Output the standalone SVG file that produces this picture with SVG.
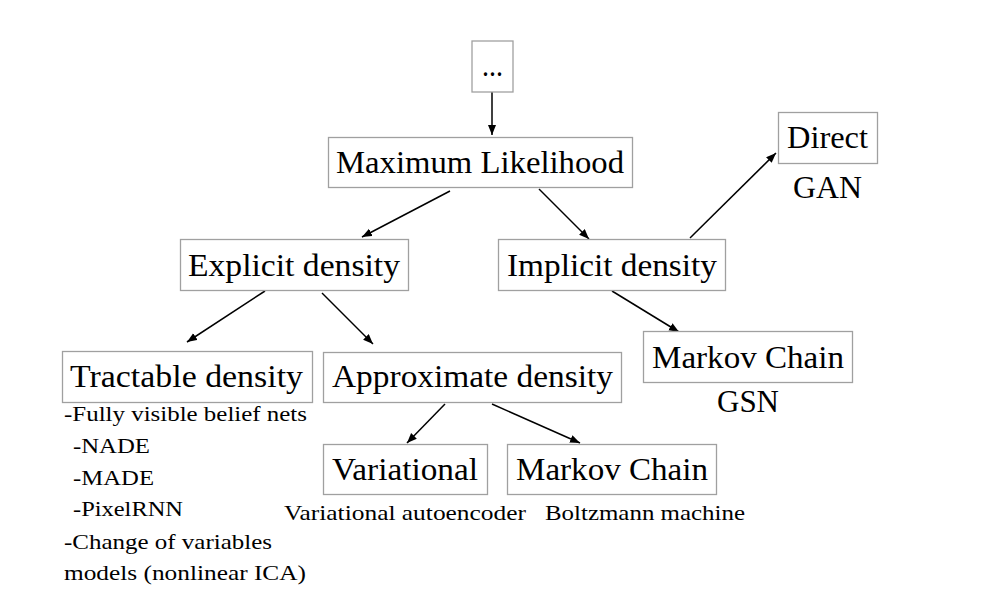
<svg xmlns="http://www.w3.org/2000/svg" width="999" height="590" viewBox="0 0 999 590">
<style>
.box{fill:#fff;stroke:#a0a0a0;stroke-width:1.3}
.lbl{font-size:31px;fill:#000}
.sm{font-size:22px;fill:#000}
.edge{stroke:#000;stroke-width:1.5;fill:none;marker-end:url(#ah)}
</style>
<defs>
<marker id="ah" markerUnits="userSpaceOnUse" markerWidth="12" markerHeight="10" refX="10" refY="4" orient="auto">
<path d="M0,0 L10,4 L0,8 Z" fill="#000"/>
</marker>
</defs>
<rect width="999" height="590" fill="#fff"/>
<g id="connectors">
<line class="edge" x1="492" y1="84" x2="492" y2="135"/>
<line class="edge" x1="450" y1="191" x2="362" y2="237"/>
<line class="edge" x1="539" y1="189" x2="589" y2="239"/>
<line class="edge" x1="690" y1="238" x2="776" y2="153"/>
<line class="edge" x1="612" y1="291" x2="679" y2="332"/>
<line class="edge" x1="265" y1="291" x2="187" y2="342"/>
<line class="edge" x1="322" y1="293" x2="373" y2="344"/>
<line class="edge" x1="445" y1="404" x2="407" y2="443"/>
<line class="edge" x1="492" y1="404" x2="580" y2="443"/>
</g>
<g font-family="Liberation Serif, DejaVu Serif, serif">
<g id="node-dots">
<rect class="box" x="472" y="41" width="41" height="51"/>
<text class="lbl" x="482" y="76" textLength="21" lengthAdjust="spacingAndGlyphs">...</text>
</g>
<g id="node-ml">
<rect class="box" x="328.5" y="137.5" width="304" height="50"/>
<text class="lbl" x="336" y="173" textLength="288" lengthAdjust="spacingAndGlyphs">Maximum Likelihood</text>
</g>
<g id="node-explicit">
<rect class="box" x="180.5" y="239.5" width="228" height="51"/>
<text class="lbl" x="188" y="276" textLength="212" lengthAdjust="spacingAndGlyphs">Explicit density</text>
</g>
<g id="node-implicit">
<rect class="box" x="498.5" y="239.5" width="227" height="51"/>
<text class="lbl" x="507" y="276" textLength="210" lengthAdjust="spacingAndGlyphs">Implicit density</text>
</g>
<g id="node-direct">
<rect class="box" x="778.5" y="112.5" width="99" height="51"/>
<text class="lbl" x="787" y="148" textLength="81" lengthAdjust="spacingAndGlyphs">Direct</text>
<text class="lbl" x="793" y="198" textLength="69" lengthAdjust="spacingAndGlyphs">GAN</text>
</g>
<g id="node-markov-gsn">
<rect class="box" x="643.5" y="331.5" width="209" height="51"/>
<text class="lbl" x="652" y="368" textLength="192" lengthAdjust="spacingAndGlyphs">Markov Chain</text>
<text class="lbl" x="717" y="412" textLength="62" lengthAdjust="spacingAndGlyphs">GSN</text>
</g>
<g id="node-tractable">
<rect class="box" x="62.5" y="351.5" width="250" height="51"/>
<text class="lbl" x="70" y="387" textLength="233" lengthAdjust="spacingAndGlyphs">Tractable density</text>
<text class="sm" x="64" y="421" textLength="243" lengthAdjust="spacingAndGlyphs">-Fully visible belief nets</text>
<text class="sm" x="73" y="453" textLength="77" lengthAdjust="spacingAndGlyphs">-NADE</text>
<text class="sm" x="73" y="485" textLength="81" lengthAdjust="spacingAndGlyphs">-MADE</text>
<text class="sm" x="73" y="516" textLength="110" lengthAdjust="spacingAndGlyphs">-PixelRNN</text>
<text class="sm" x="64" y="549" textLength="208" lengthAdjust="spacingAndGlyphs">-Change of variables</text>
<text class="sm" x="64" y="580" textLength="242" lengthAdjust="spacingAndGlyphs">models (nonlinear ICA)</text>
</g>
<g id="node-approx">
<rect class="box" x="323.5" y="352.5" width="298" height="50"/>
<text class="lbl" x="332" y="387" textLength="281" lengthAdjust="spacingAndGlyphs">Approximate density</text>
</g>
<g id="node-variational">
<rect class="box" x="323.5" y="444.5" width="164" height="50"/>
<text class="lbl" x="332" y="480" textLength="146" lengthAdjust="spacingAndGlyphs">Variational</text>
<text class="sm" x="284" y="520" textLength="242" lengthAdjust="spacingAndGlyphs">Variational autoencoder</text>
</g>
<g id="node-markov-bm">
<rect class="box" x="507.5" y="444.5" width="209" height="50"/>
<text class="lbl" x="516" y="480" textLength="192" lengthAdjust="spacingAndGlyphs">Markov Chain</text>
<text class="sm" x="545" y="520" textLength="200" lengthAdjust="spacingAndGlyphs">Boltzmann machine</text>
</g>
</g>
</svg>
